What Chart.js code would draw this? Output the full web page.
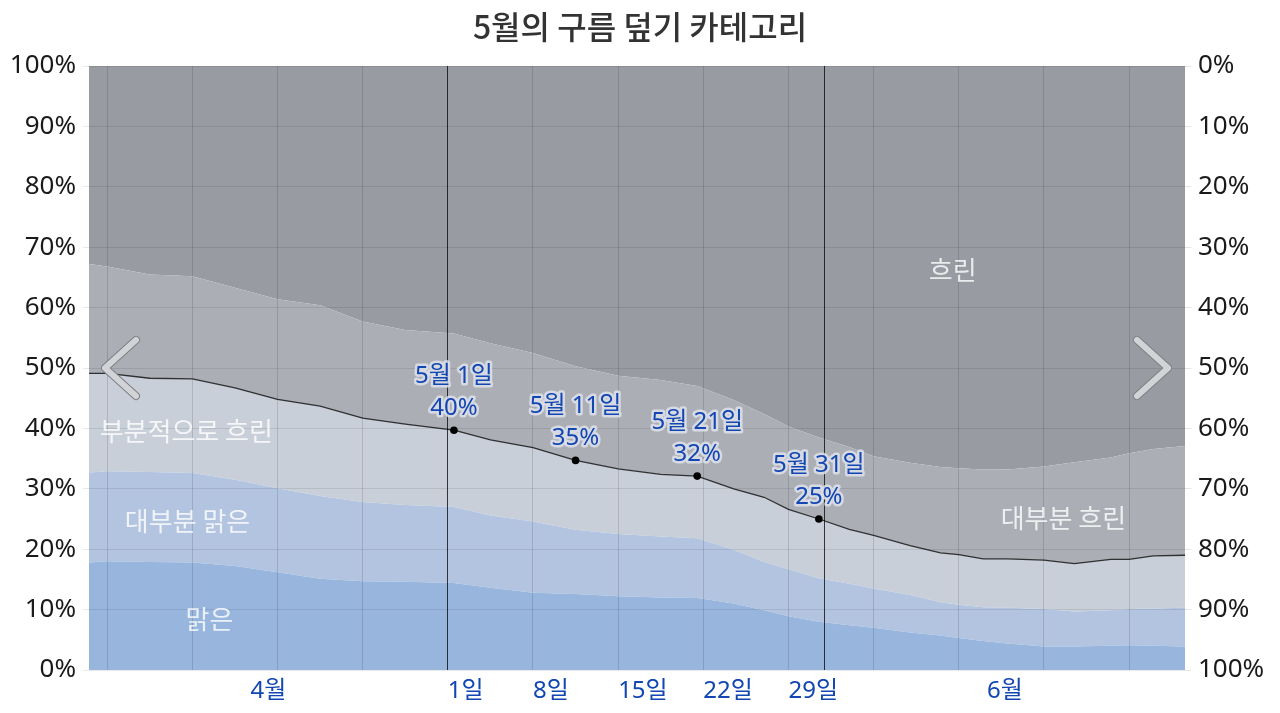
<!DOCTYPE html>
<html lang="ko">
<head>
<meta charset="utf-8">
<script src="https://cdn.jsdelivr.net/npm/chart.js@4.4.1/dist/chart.umd.min.js"></script>
<style>
html,body{margin:0;padding:0;background:#fff;}
#wrap{width:1280px;height:713px;position:relative;}
</style>
</head>
<body>
<div id="wrap"><canvas id="c"></canvas></div>
<script>
// ---- data (day offset from 1 May 00:00; May d centre = d - 0.5) ----
const chartTitle = '5월의 구름 덮기 카테고리';
const categories = ['맑은', '대부분 맑은', '부분적으로 흐린', '대부분 흐린', '흐린'];
const days = [-29.5,-28,-24.5,-21,-17.5,-14,-10.5,-7,-3.5,0.5,3.5,7,10.5,14,17.5,20.5,23.5,26,28,30.5,33,35,38,40.5,42,44,46,49,51.5,54.5,56,58,60.6];
const clear        = [17.8,18.0,17.9,17.8,17.2,16.2,15.1,14.7,14.6,14.4,13.6,12.8,12.6,12.2,12.0,11.9,11.0,9.9,8.9,8.0,7.4,7.0,6.2,5.7,5.3,4.8,4.4,3.9,3.9,4.0,4.1,4.0,3.9];
const mostlyClear  = [14.9,14.9,14.9,14.8,14.3,13.9,13.7,13.1,12.7,12.6,12.0,11.8,10.6,10.3,10.1,9.9,8.9,8.0,7.8,7.2,6.9,6.5,6.2,5.5,5.5,5.6,5.9,6.2,5.8,5.9,6.0,6.2,6.4];
const partlyCloudy = [16.4,16.2,15.5,15.6,15.2,14.7,14.9,13.9,13.4,12.7,12.5,12.2,11.5,10.8,10.3,10.3,10.1,10.7,9.9,9.8,9.0,8.8,8.2,8.2,8.3,8.0,8.1,8.1,7.9,8.4,8.2,8.7,8.7];
const mostlyCloudy = [18.1,17.7,17.2,17.0,16.6,16.6,16.7,16.0,15.6,16.0,16.0,15.7,15.6,15.4,15.6,14.9,14.7,13.8,13.7,13.5,13.6,13.1,13.7,14.2,14.3,14.8,14.8,15.5,16.8,16.9,17.6,17.7,18.1];
const overcast     = [32.8,33.2,34.5,34.8,36.7,38.6,39.6,42.3,43.7,44.3,45.9,47.5,49.7,51.3,52.0,53.0,55.3,57.6,59.7,61.5,63.1,64.6,65.7,66.4,66.6,66.8,66.8,66.3,65.6,64.8,64.1,63.4,62.9];
const series = [clear, mostlyClear, partlyCloudy, mostlyCloudy, overcast];

const gridDays = [-28,-21,-14,-7,0,7,14,21,28,31,35,42,49,56];
const monthEdgeDays = [0, 31];
const dayTickValues = [0, 7, 14, 21, 28];
const dayTickLabels = ['1일', '8일', '15일', '22일', '29일'];
const monthLabels = ['4월', '6월'];
const highlightDays = [0.5, 10.5, 20.5, 30.5];
const highlightLabels = ['5월 1일', '5월 11일', '5월 21일', '5월 31일'];

// ---- styling ----
const X_MIN = -29.5, X_MAX = 60.6;
const fills = ['#97b5dd', '#b2c4df', '#c9cfd8', '#abaeb5', '#989ba1'];
const BLUE = '#1246b2';
const NUM_FONT = '"Noto Sans", "Noto Sans CJK KR", sans-serif';
const KR_FONT = '"Noto Sans CJK KR", "Noto Sans", sans-serif';
const bandLabelAnchors = [[-19.6, 8.4], [-21.4, 24.7], [-21.5, 39.6], [50.6, 25.2], [41.5, 66.2]];

const datasets = series.map((arr, s) => ({
  label: categories[s],
  data: arr.map((v, i) => ({x: days[i], y: v})),
  backgroundColor: fills[s],
  borderColor: s === 2 ? 'rgba(20,20,20,0.85)' : 'rgba(0,0,0,0)',
  borderWidth: s === 2 ? 1.3 : 0,
  fill: s === 0 ? 'origin' : '-1',
  tension: 0,
  pointRadius: s === 2 ? (c => highlightDays.includes(days[c.dataIndex]) ? 3.8 : 0) : 0,
  pointHoverRadius: 0,
  pointBackgroundColor: '#000',
  pointBorderWidth: 0
}));

const overlay = {
  id: 'overlay',
  afterDraw(chart) {
    const {ctx, chartArea: a, scales: {x, y}} = chart;
    ctx.save();
    // band labels
    ctx.textAlign = 'center';
    ctx.textBaseline = 'middle';
    ctx.font = '26px ' + KR_FONT;
    ctx.fillStyle = 'rgba(255,255,255,0.8)';
    bandLabelAnchors.forEach((p, i) => {
      ctx.fillText(categories[i], x.getPixelForValue(p[0]), y.getPixelForValue(p[1]));
    });
    // month labels centred on visible part of month
    const spans = [[X_MIN, monthEdgeDays[0]], [monthEdgeDays[1], X_MAX]];
    ctx.font = '24px ' + NUM_FONT;
    ctx.fillStyle = BLUE;
    monthLabels.forEach((t, i) => {
      const cx = (x.getPixelForValue(spans[i][0]) + x.getPixelForValue(spans[i][1])) / 2;
      ctx.fillText(t, cx, a.bottom + 21);
    });
    // chevrons
    const cy = y.getPixelForValue(50);
    const chev = (tipX, dir) => {
      ctx.beginPath();
      ctx.moveTo(tipX + dir * 31, cy - 28);
      ctx.lineTo(tipX, cy);
      ctx.lineTo(tipX + dir * 31, cy + 28);
      ctx.lineCap = 'round'; ctx.lineJoin = 'round';
      ctx.strokeStyle = '#7e8085'; ctx.lineWidth = 8; ctx.stroke();
      ctx.strokeStyle = '#d2d3d6'; ctx.lineWidth = 6; ctx.stroke();
    };
    chev(a.left + 16, 1);
    chev(a.right - 17, -1);
    // highlighted point annotations
    const meta = chart.getDatasetMeta(2);
    ctx.font = '24px ' + NUM_FONT;
    ctx.lineJoin = 'round';
    highlightDays.forEach((d, k) => {
      const i = days.indexOf(d);
      const el = meta.data[i];
      const v = clear[i] + mostlyClear[i] + partlyCloudy[i];
      const lines = [highlightLabels[k], Math.round(v) + '%'];
      const ys = [el.y - 54, el.y - 22];
      lines.forEach((t, j) => {
        ctx.strokeStyle = 'rgba(222,226,234,0.85)';
        ctx.lineWidth = 5;
        ctx.strokeText(t, el.x, ys[j]);
        ctx.fillStyle = BLUE;
        ctx.fillText(t, el.x, ys[j]);
      });
    });
    ctx.restore();
  }
};

new Chart(document.getElementById('c'), {
  type: 'line',
  data: {datasets},
  options: {
    responsive: true,
    maintainAspectRatio: false,
    animation: false,
    events: [],
    layout: {padding: 0},
    plugins: {
      legend: {display: false},
      tooltip: {enabled: false},
      title: {
        display: true, text: chartTitle, color: '#333',
        font: {family: KR_FONT, size: 32, weight: '500'},
        padding: {top: 8, bottom: 19.6}
      }
    },
    scales: {
      x: {
        type: 'linear', min: X_MIN, max: X_MAX,
        afterBuildTicks: s => { s.ticks = gridDays.map(v => ({value: v})); },
        afterFit: s => { s.height = 43; },
        border: {display: false},
        grid: {
          z: 1, drawTicks: false, lineWidth: 1,
          color: c => monthEdgeDays.includes(c.tick && c.tick.value) ? 'rgba(0,0,0,0.75)' : 'rgba(0,0,0,0.13)'
        },
        ticks: {
          autoSkip: false, maxRotation: 0, minRotation: 0, align: 'start', padding: 7,
          color: BLUE, font: {family: NUM_FONT, size: 24},
          callback: v => { const k = dayTickValues.indexOf(v); return k >= 0 ? dayTickLabels[k] : ''; }
        }
      },
      y: {
        stacked: true, min: 0, max: 100,
        afterFit: s => { s.width = 89; },
        border: {display: false},
        grid: {z: 1, color: 'rgba(0,0,0,0.09)', tickLength: 6},
        ticks: {stepSize: 10, padding: 7, color: '#1a1a1a', font: {family: NUM_FONT, size: 26}, callback: v => v + '%'}
      },
      y2: {
        position: 'right', reverse: true, min: 0, max: 100,
        afterFit: s => { s.width = 95; },
        border: {display: false},
        grid: {drawOnChartArea: false, color: 'rgba(0,0,0,0.1)', tickLength: 6},
        ticks: {stepSize: 10, padding: 7, color: '#1a1a1a', font: {family: NUM_FONT, size: 26}, callback: v => v + '%'}
      }
    }
  },
  plugins: [overlay]
});
</script>
</body>
</html>
